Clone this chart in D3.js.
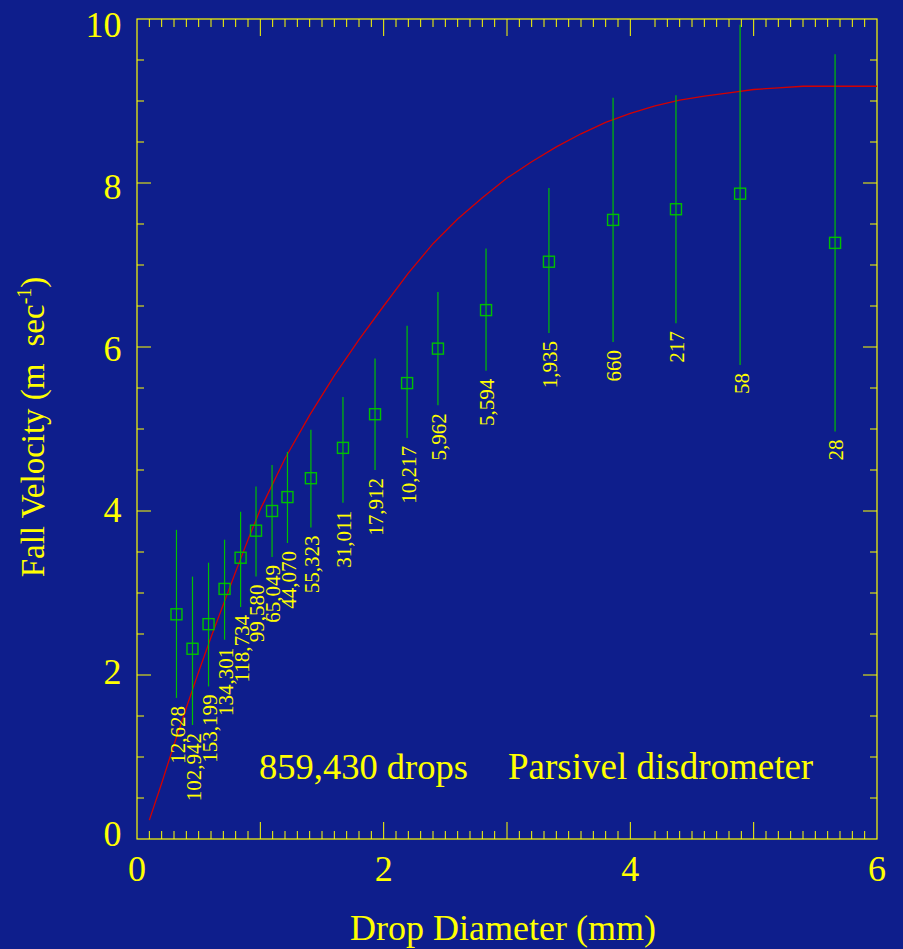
<!DOCTYPE html>
<html>
<head>
<meta charset="utf-8">
<script src="https://cdn.jsdelivr.net/npm/d3@7/dist/d3.min.js"></script>
<style>
  html, body { margin: 0; padding: 0; background: #0e1e8c; }
  svg { display: block; }
  text { font-family: "Liberation Serif", "Times New Roman", serif; fill: #ffff00; }
</style>
</head>
<body>
<svg id="chart" width="903" height="949"></svg>
<script>
// ---- data ----
const binDiameter = [0.32, 0.45, 0.58, 0.71, 0.84, 0.965, 1.095, 1.22, 1.41, 1.67, 1.93, 2.19, 2.44, 2.83, 3.34, 3.86, 4.37, 4.89, 5.66];
const meanVelocity = [2.74, 2.32, 2.62, 3.05, 3.43, 3.76, 4.00, 4.17, 4.40, 4.77, 5.18, 5.56, 5.98, 6.45, 7.04, 7.55, 7.68, 7.87, 7.27];
const upperVelocity = [3.77, 3.20, 3.37, 3.65, 3.99, 4.30, 4.56, 4.72, 4.99, 5.39, 5.86, 6.26, 6.67, 7.20, 7.94, 9.04, 9.07, 9.93, 9.57];
const lowerVelocity = [1.72, 1.39, 1.86, 2.43, 2.83, 3.20, 3.44, 3.61, 3.80, 4.10, 4.50, 4.89, 5.29, 5.71, 6.17, 6.06, 6.29, 5.78, 4.97];
const dropCounts = ["12,628", "102,942", "153,199", "134,301", "118,734", "99,580", "65,049", "44,070", "55,323", "31,011", "17,912", "10,217", "5,962", "5,594", "1,935", "660", "217", "58", "28"];

const curveDiameter = [0.1,0.2,0.3,0.4,0.5,0.6,0.7,0.8,0.9,1.0,1.2,1.4,1.6,1.8,2.0,2.2,2.4,2.6,2.8,3.0,3.2,3.4,3.6,3.8,4.0,4.2,4.4,4.6,4.8,5.0,5.2,5.4,5.6,5.8,6.0];
const curveVelocity = [0.23,0.68,1.15,1.60,2.04,2.46,2.86,3.26,3.65,4.02,4.64,5.17,5.65,6.09,6.50,6.90,7.26,7.56,7.82,8.06,8.26,8.44,8.60,8.74,8.85,8.94,9.01,9.06,9.10,9.14,9.16,9.18,9.18,9.18,9.18];

const xTickLabels = [0, 2, 4, 6];
const yTickLabels = [0, 2, 4, 6, 8, 10];
const totalLabel = "859,430 drops";
const instrumentLabel = "Parsivel disdrometer";
const xTitle = "Drop Diameter (mm)";

// ---- layout ----
const svg = d3.select("#chart");
const L = 137, R = 877, T = 19, B = 839;
const x = d3.scaleLinear().domain([0, 6]).range([L, R]);
const y = d3.scaleLinear().domain([0, 10]).range([B, T]);
const yLabelPos = d3.scaleLinear().domain([0, 10]).range([833.7, 25]);

const YEL = "#ffff00", GRN = "#00c000", RED = "#d40000";

svg.append("rect").attr("width", 903).attr("height", 949).attr("fill", "#0e1e8c");

// frame
svg.append("rect").attr("x", L).attr("y", T).attr("width", R - L).attr("height", B - T)
  .attr("fill", "none").attr("stroke", YEL).attr("stroke-width", 1.2);

// x ticks (minor every 0.1, major every 1)
const xt = d3.range(1, 60).map(i => i / 10).filter(v => Math.abs(v - 4.1) > 1e-6);
const g = svg.append("g").attr("stroke", YEL).attr("stroke-width", 1);
xt.forEach(v => {
  const major = Math.abs(v - Math.round(v)) < 1e-6;
  const len = major ? 17 : 8;
  g.append("line").attr("x1", x(v)).attr("x2", x(v)).attr("y1", B).attr("y2", B - len);
  g.append("line").attr("x1", x(v)).attr("x2", x(v)).attr("y1", T).attr("y2", T + len);
});
// y ticks (minor every 0.5, major every 2)
const yt = d3.range(1, 20).map(i => i / 2);
yt.forEach(v => {
  const major = Math.abs(v / 2 - Math.round(v / 2)) < 1e-6;
  const len = major ? 14 : 7;
  g.append("line").attr("x1", L).attr("x2", L + len).attr("y1", y(v)).attr("y2", y(v));
  g.append("line").attr("x1", R).attr("x2", R - len).attr("y1", y(v)).attr("y2", y(v));
});

// tick labels
svg.selectAll(".xl").data(xTickLabels).enter().append("text")
  .attr("x", d => x(d)).attr("y", 880.5).attr("text-anchor", "middle")
  .attr("font-size", 36).text(d => d);
svg.selectAll(".yl").data(yTickLabels).enter().append("text")
  .attr("x", 121.5).attr("y", d => yLabelPos(d)).attr("dy", "0.34em").attr("text-anchor", "end")
  .attr("font-size", 36).text(d => d);

// axis titles
svg.append("text").attr("x", 503).attr("y", 940).attr("text-anchor", "middle")
  .attr("font-size", 36).text(xTitle);
const yt0 = svg.append("text").attr("transform", "translate(43.5,427) rotate(-90)")
  .attr("text-anchor", "middle").attr("font-size", 33);
yt0.append("tspan").text("Fall Velocity (m");
yt0.append("tspan").attr("dx", 17).text("sec");
yt0.append("tspan").attr("font-size", 20).attr("dy", -13).text("-1");
yt0.append("tspan").attr("dy", 13).text(")");

// curve
const line = d3.line().x(d => x(d[0])).y(d => y(d[1]));
svg.append("path").datum(d3.zip(curveDiameter, curveVelocity))
  .attr("d", line).attr("fill", "none").attr("stroke", RED).attr("stroke-width", 1.3);

// error bars
const bins = binDiameter.map((d, i) => ({ d, m: meanVelocity[i], hi: upperVelocity[i], lo: lowerVelocity[i], n: dropCounts[i] }));
svg.selectAll(".eb").data(bins).enter().append("line")
  .attr("x1", b => x(b.d)).attr("x2", b => x(b.d))
  .attr("y1", b => y(b.hi)).attr("y2", b => y(b.lo))
  .attr("stroke", GRN).attr("stroke-width", 1.2);
const S = 11;
svg.selectAll(".sq").data(bins).enter().append("rect")
  .attr("x", b => x(b.d) - S / 2).attr("y", b => y(b.m) - S / 2)
  .attr("width", S).attr("height", S)
  .attr("fill", "none").attr("stroke", GRN).attr("stroke-width", 1.4);

// count labels
svg.selectAll(".cl").data(bins).enter().append("text")
  .attr("transform", b => `translate(${x(b.d)},${y(b.lo) + 8}) rotate(-90)`)
  .attr("text-anchor", "end").attr("dy", "0.4em").attr("font-size", 21)
  .text(b => b.n);

// annotations
svg.append("text").attr("x", 259).attr("y", 779).attr("font-size", 36.5).text(totalLabel);
svg.append("text").attr("x", 508).attr("y", 779).attr("font-size", 37).text(instrumentLabel);
</script>
</body>
</html>
